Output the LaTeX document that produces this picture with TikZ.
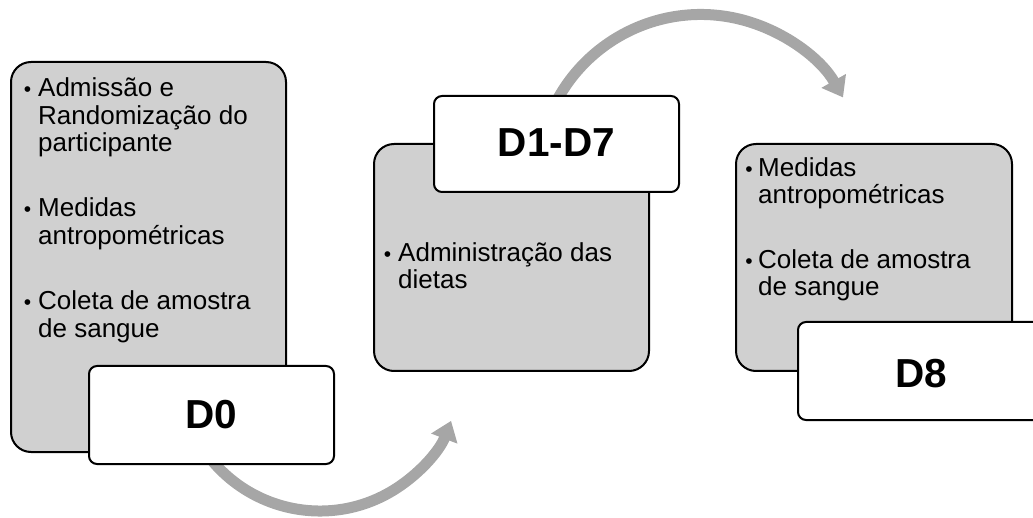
\documentclass[tikz,border=0pt]{standalone}
\usepackage{fontspec}
\setmainfont{Liberation Sans}
\usetikzlibrary{arrows.meta}
\definecolor{boxgray}{HTML}{D0D0D0}
\definecolor{arcgray}{HTML}{A6A6A6}
\begin{document}
\begin{tikzpicture}[x=1pt,y=1pt,
  panel/.style={draw=black, line width=2pt, fill=boxgray, rounded corners=20pt, anchor=south west, inner sep=0},
  tag/.style={draw=black, line width=2pt, fill=white, rounded corners=8pt, anchor=south west, inner sep=0},
  tagtext/.style={font=\fontsize{40.5}{46}\selectfont\bfseries, inner sep=0},
  txt/.style={font=\fontsize{26}{27.5}\selectfont, inner sep=0, anchor=base west},
  bul/.style={font=\fontsize{21}{27.5}\selectfont, inner sep=0, anchor=base},
  flow/.style={draw=arcgray, line width=11pt, -{Triangle[length=19pt,width=27pt]}}]
\useasboundingbox (0,0) rectangle (1033,517);
% arcs (behind)
\coordinate (c1) at (319.9,146.5);
\coordinate (c2) at (700.8,339.1);
\draw[flow] ([shift={(-150:140.5)}]c1) arc[start angle=-150, end angle=-21, radius=140.5];
\draw[flow] ([shift={(165:163.4)}]c2) arc[start angle=165, end angle=29.5, radius=163.4];
% panels
\node[panel, minimum width=275pt, minimum height=390pt] (p1) at (10,64) {};
\node[panel, minimum width=275pt, minimum height=227pt] (p2) at (373,145) {};
\node[panel, minimum width=276pt, minimum height=227pt] (p3) at (735,145) {};
% tags
\node[tag, minimum width=245pt, minimum height=98pt] (t1) at (88,52) {};
\node[tag, minimum width=245pt, minimum height=96pt] (t2) at (433,324) {};
\node[tag, minimum width=248pt, minimum height=98pt] (t3) at (797,96) {};
\node[tagtext] (l1) at (t1.center) {D0};
\node[tagtext] (l2) at ([yshift=1pt]t2.center) {D1-D7};
\node[tagtext] (l3) at ([xshift=-1pt,yshift=-3pt]t3.center) {D8};
% panel 1 text
\node[bul] (b11) at (27.5,420.3) {•};
\node[txt] (a11) at (38,420.3) {Admissão e};
\node[txt] (a12) at (38,392.8) {Randomização do};
\node[txt] (a13) at (38,365.3) {participante};
\node[bul] (b12) at (27.5,300) {•};
\node[txt] (a14) at (38,300) {Medidas};
\node[txt] (a15) at (38,272.5) {antropométricas};
\node[bul] (b13) at (27.5,207) {•};
\node[txt] (a16) at (38,207) {Coleta de amostra};
\node[txt] (a17) at (38,179.5) {de sangue};
% panel 2 text
\node[bul] (b21) at (387.5,255.3) {•};
\node[txt] (a21) at (398,255.3) {Administração das};
\node[txt] (a22) at (398,228) {dietas};
% panel 3 text
\node[bul] (b31) at (749,340.3) {•};
\node[txt] (a31) at (758,340.3) {Medidas};
\node[txt] (a32) at (758,313) {antropométricas};
\node[bul] (b32) at (749,248.7) {•};
\node[txt] (a33) at (758,248.7) {Coleta de amostra};
\node[txt] (a34) at (758,221.2) {de sangue};
\end{tikzpicture}
\end{document}
